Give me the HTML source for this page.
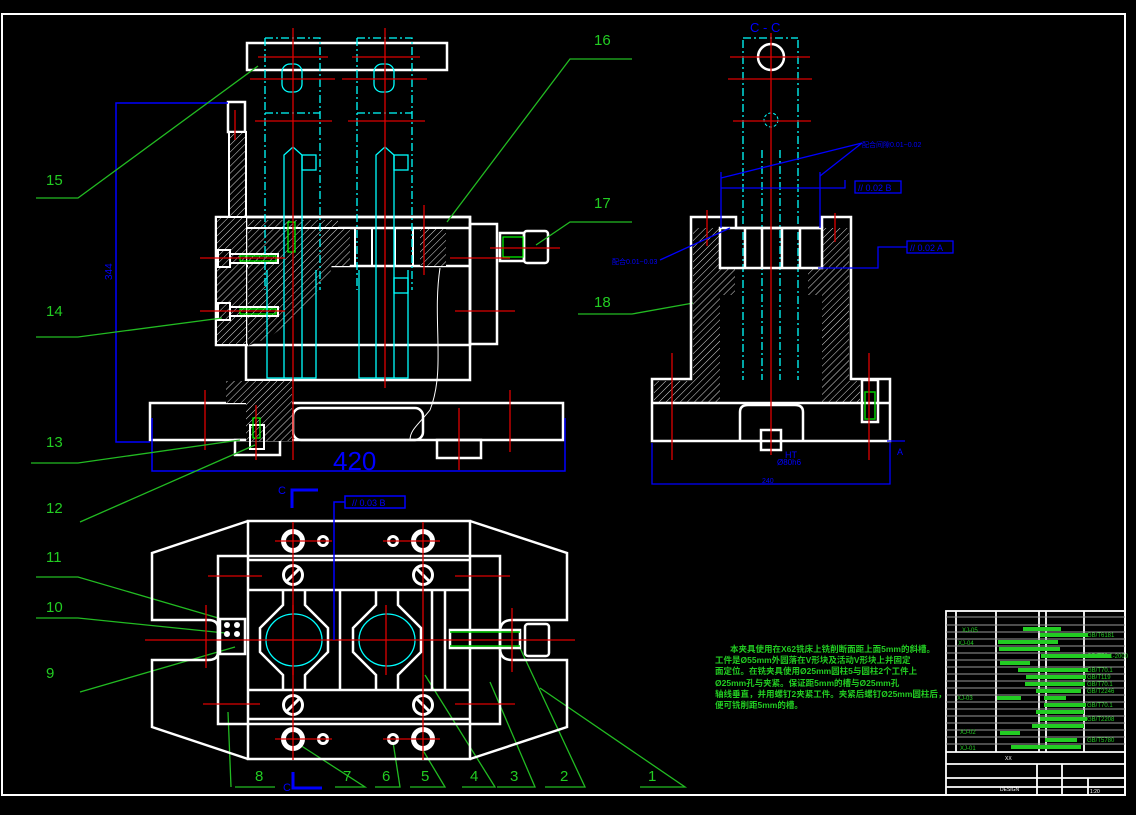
<!DOCTYPE html>
<html><head><meta charset="utf-8"><style>
html,body{margin:0;padding:0;background:#000;}
svg{display:block}
text{font-family:"Liberation Sans","Noto Sans CJK SC",sans-serif}
</style></head><body>
<svg width="1136" height="815" viewBox="0 0 1136 815" xmlns="http://www.w3.org/2000/svg">
<defs>
<pattern id="h" width="5" height="5" patternUnits="userSpaceOnUse" patternTransform="rotate(45)">
<rect width="5" height="5" fill="#000"/><line x1="0" y1="0" x2="0" y2="5" stroke="#ddd" stroke-width="1"/></pattern>
</defs>
<rect width="1136" height="815" fill="#000"/>
<rect x="2" y="14" width="1123" height="781" fill="none" stroke="#fff" stroke-width="2"/>

<!-- ============ FRONT VIEW ============ -->
<g fill="none" stroke="#fff" stroke-width="2.5">
<rect x="247" y="43" width="200" height="27"/>
<rect x="228" y="102" width="17" height="30"/>
<rect x="216" y="217" width="254" height="128"/>
<rect x="470" y="224" width="27" height="120"/>
<rect x="246" y="217" width="224" height="163"/>
<line x1="246" y1="228" x2="470" y2="228"/>
<line x1="246" y1="266" x2="470" y2="266"/>
<rect x="150" y="403" width="413" height="37"/>
<rect x="235" y="440" width="45" height="15"/>
<rect x="437" y="440" width="44" height="18"/>
<rect x="293" y="408" width="130" height="32" rx="8"/>
<rect x="500" y="233" width="24" height="28"/>
<rect x="524" y="231" width="24" height="32" rx="3"/>
</g>
<rect x="229" y="132" width="17" height="85" fill="url(#h)" stroke="#fff" stroke-width="2"/>
<rect x="217" y="218" width="29" height="126" fill="url(#h)"/>
<path d="M248 229 L338 229 L330 275 L310 300 L292 320 L270 337 L248 346 Z" fill="url(#h)"/>
<rect x="328" y="229" width="22" height="37" fill="url(#h)"/>
<rect x="420" y="229" width="26" height="37" fill="url(#h)"/>
<rect x="248" y="220" width="90" height="7" fill="url(#h)"/>
<rect x="226" y="381" width="66" height="22" fill="url(#h)"/>
<rect x="246" y="381" width="46" height="60" fill="url(#h)"/>
<g stroke="#fff" stroke-width="2" fill="none">
<line x1="355" y1="229" x2="355" y2="266"/><line x1="372" y1="229" x2="372" y2="266"/>
<line x1="395" y1="229" x2="395" y2="266"/><line x1="413" y1="229" x2="413" y2="266"/>
<rect x="218" y="250" width="12" height="17"/><rect x="218" y="303" width="12" height="17"/>
<rect x="230" y="254" width="48" height="9"/><rect x="230" y="307" width="48" height="9"/>
<rect x="250" y="425" width="14" height="24"/>
<path d="M440 268 C432 320 446 370 430 410 C418 425 410 430 410 440" stroke-width="1"/>
</g>
<g stroke="#0f0" stroke-width="1.2" fill="none"><rect x="240" y="256" width="36" height="5"/><rect x="240" y="309" width="36" height="5"/><rect x="288" y="222" width="7" height="30"/><rect x="253" y="418" width="7" height="20"/><rect x="503" y="237" width="20" height="20"/></g>
<!-- cyan columns -->
<g stroke="#0ff" stroke-width="1.3" fill="none" stroke-dasharray="8 3 2 3">
<path d="M265 38 L320 38 L320 290 M265 38 L265 290"/>
<path d="M357 38 L412 38 L412 290 M357 38 L357 290"/>
<path d="M265 113 L320 113 M357 113 L412 113"/>
</g>
<g stroke="#0ff" stroke-width="1.3" fill="none">
<rect x="282" y="64" width="20" height="28" rx="8"/><rect x="374" y="64" width="20" height="28" rx="8"/>
<path d="M284 378 L284 155 L293 147 L302 155 L302 378"/>
<path d="M376 378 L376 155 L385 147 L394 155 L394 378"/>
<path d="M267 270 L267 378 L316 378 L316 270"/>
<path d="M359 270 L359 378 L408 378 L408 270"/>
<rect x="302" y="155" width="14" height="15"/><rect x="394" y="155" width="14" height="15"/>
<rect x="394" y="278" width="14" height="15"/>
</g>
<!-- red center lines front -->
<g stroke="#d00" stroke-width="1.3" fill="none">
<line x1="293" y1="28" x2="293" y2="460"/><line x1="385" y1="28" x2="385" y2="388"/>
<line x1="258" y1="57" x2="328" y2="57"/><line x1="352" y1="57" x2="420" y2="57"/>
<line x1="250" y1="79" x2="335" y2="79"/><line x1="342" y1="79" x2="427" y2="79"/>
<line x1="255" y1="121" x2="332" y2="121"/><line x1="348" y1="121" x2="425" y2="121"/>
<line x1="200" y1="258" x2="285" y2="258"/><line x1="200" y1="311" x2="285" y2="311"/>
<line x1="450" y1="258" x2="510" y2="258"/><line x1="455" y1="311" x2="515" y2="311"/>
<line x1="490" y1="248" x2="560" y2="248"/>
<line x1="424" y1="205" x2="424" y2="275"/>
<line x1="205" y1="390" x2="205" y2="450"/><line x1="459" y1="408" x2="459" y2="470"/>
<line x1="510" y1="390" x2="510" y2="452"/><line x1="256" y1="405" x2="256" y2="460"/>
<line x1="235" y1="110" x2="235" y2="140"/>
</g>
<!-- dims front -->
<g stroke="#00f" stroke-width="1.5" fill="none">
<path d="M228 103 L116 103 L116 442 L150 442"/>
<path d="M152 418 L152 471 L565 471 L565 418"/>
</g>
<text x="112" y="280" fill="#00f" font-size="10" transform="rotate(-90 112 280)">344</text>
<text x="333" y="470" fill="#00f" font-size="26">420</text>

<!-- leaders -->
<g stroke="#2b2" stroke-width="1.3" fill="none">
<path d="M36 198 L78 198 L258 66"/>
<path d="M632 59 L570 59 L447 222"/>
<path d="M632 222 L570 222 L536 245"/>
<path d="M578 314 L632 314 L710 300"/>
<path d="M36 337 L78 337 L222 318"/>
<path d="M31 463 L78 463 L240 440"/>
<path d="M80 522 L255 445"/>
<path d="M36 577 L78 577 L225 620"/>
<path d="M36 618 L78 618 L225 633"/>
<path d="M80 692 L235 647"/>
<path d="M235 787 L275 787 M231 787 L228 712"/>
<path d="M335 787 L365 787 L300 745"/>
<path d="M375 787 L400 787 L393 742"/>
<path d="M410 787 L445 787 L418 742"/>
<path d="M462 787 L495 787 L425 675"/>
<path d="M497 787 L535 787 L490 682"/>
<path d="M545 787 L585 787 L520 648"/>
<path d="M640 787 L685 787 L540 688"/>
</g>
<g fill="#2c2" font-size="15">
<text x="46" y="185">15</text><text x="594" y="45">16</text><text x="594" y="208">17</text><text x="594" y="307">18</text>
<text x="46" y="316">14</text><text x="46" y="447">13</text><text x="46" y="513">12</text>
<text x="46" y="562">11</text><text x="46" y="612">10</text><text x="46" y="678">9</text>
<text x="255" y="781">8</text><text x="343" y="781">7</text><text x="382" y="781">6</text><text x="421" y="781">5</text>
<text x="470" y="781">4</text><text x="510" y="781">3</text><text x="560" y="781">2</text><text x="648" y="781">1</text>
</g>

<!-- ============ TOP (PLAN) VIEW ============ -->
<g fill="none" stroke="#fff" stroke-width="2.5">
<path d="M248 521 L152 553 L152 620 L208 620 Q218 620 218 628 L218 652 Q218 660 208 660 L152 660 L152 727 L248 759"/>
<path d="M470 521 L567 553 L567 620 L512 620 Q500 620 500 632 L500 648 Q500 660 512 660 L567 660 L567 727 L470 759"/>
<rect x="248" y="521" width="222" height="238"/>
<rect x="218" y="556" width="282" height="168"/>
<line x1="248" y1="560" x2="470" y2="560"/><line x1="248" y1="590" x2="470" y2="590"/>
<line x1="248" y1="690" x2="470" y2="690"/><line x1="248" y1="719" x2="470" y2="719"/>
<line x1="340" y1="590" x2="340" y2="690"/><line x1="432" y1="590" x2="432" y2="690"/><line x1="445" y1="590" x2="445" y2="690"/>
<path d="M283 590 L283 605 L260 628 L260 652 L283 675 L283 690 M305 590 L305 605 L328 628 L328 652 L305 675 L305 690"/>
<path d="M376 590 L376 605 L353 628 L353 652 L376 675 L376 690 M398 590 L398 605 L421 628 L421 652 L398 675 L398 690"/>
<rect x="450" y="630" width="70" height="18"/>
<rect x="525" y="624" width="24" height="32" rx="3"/>
<rect x="220" y="619" width="25" height="35"/>
</g>
<g fill="none" stroke="#0ff" stroke-width="1.3"><ellipse cx="294" cy="640" rx="28" ry="26"/><ellipse cx="387" cy="640" rx="28" ry="26"/></g>
<g fill="#fff" stroke="none">
<circle cx="293" cy="541" r="12"/><circle cx="423" cy="541" r="12"/><circle cx="293" cy="739" r="12"/><circle cx="423" cy="739" r="12"/>
<circle cx="323" cy="541" r="6"/><circle cx="393" cy="541" r="6"/><circle cx="323" cy="739" r="6"/><circle cx="393" cy="739" r="6"/>
<circle cx="293" cy="575" r="11"/><circle cx="423" cy="575" r="11"/><circle cx="293" cy="705" r="11"/><circle cx="423" cy="705" r="11"/>
</g>
<g fill="#000"><circle cx="293" cy="541" r="7"/><circle cx="423" cy="541" r="7"/><circle cx="293" cy="739" r="7"/><circle cx="423" cy="739" r="7"/>
<circle cx="323" cy="541" r="3"/><circle cx="393" cy="541" r="3"/><circle cx="323" cy="739" r="3"/><circle cx="393" cy="739" r="3"/>
<circle cx="293" cy="575" r="8"/><circle cx="423" cy="575" r="8"/><circle cx="293" cy="705" r="8"/><circle cx="423" cy="705" r="8"/></g>
<g stroke="#fff" stroke-width="3"><line x1="287" y1="581" x2="299" y2="569"/><line x1="417" y1="569" x2="429" y2="581"/><line x1="287" y1="711" x2="299" y2="699"/><line x1="417" y1="699" x2="429" y2="711"/></g>
<g fill="#fff"><circle cx="227" cy="625" r="3"/><circle cx="237" cy="625" r="3"/><circle cx="227" cy="634" r="3"/><circle cx="237" cy="634" r="3"/></g>
<g stroke="#0c0" stroke-width="1.5"><line x1="450" y1="632" x2="520" y2="632"/><line x1="450" y1="646" x2="520" y2="646"/></g>
<g stroke="#d00" stroke-width="1.3">
<line x1="145" y1="640" x2="575" y2="640"/>
<line x1="293" y1="522" x2="293" y2="760"/><line x1="423" y1="522" x2="423" y2="760"/>
<line x1="208" y1="576" x2="262" y2="576"/><line x1="455" y1="576" x2="510" y2="576"/>
<line x1="203" y1="704" x2="260" y2="704"/><line x1="455" y1="704" x2="515" y2="704"/>
<line x1="206" y1="605" x2="206" y2="668"/><line x1="512" y1="608" x2="512" y2="672"/>
<line x1="293" y1="605" x2="293" y2="675"/><line x1="386" y1="605" x2="386" y2="675"/>
<line x1="275" y1="541" x2="332" y2="541"/><line x1="383" y1="541" x2="440" y2="541"/>
<line x1="275" y1="739" x2="332" y2="739"/><line x1="383" y1="739" x2="440" y2="739"/>
</g>
<g stroke="#00f" stroke-width="1.5" fill="none">
<path d="M334 640 L334 502 L345 502"/><rect x="345" y="496" width="60" height="12"/>
<path d="M292 508 L292 490 L318 490" stroke-width="3"/><path d="M293 772 L293 788 L322 788" stroke-width="3"/>
</g>
<text x="352" y="506" fill="#00f" font-size="9">// 0.03 B</text>
<text x="278" y="494" fill="#00f" font-size="11">C</text><text x="283" y="791" fill="#00f" font-size="11">C</text>

<!-- ============ SECTION C-C ============ -->
<text x="750" y="32" fill="#00f" font-size="13">C - C</text>
<g stroke="#0ff" stroke-width="1.3" fill="none" stroke-dasharray="8 3 2 3">
<path d="M743 40 L743 380 M798 40 L798 380 M743 38 L798 38"/>
<path d="M762 150 L762 380 M780 150 L780 380"/>
</g>
<circle cx="771" cy="120" r="7" stroke="#0ff" fill="none" stroke-dasharray="3 2"/>
<circle cx="771" cy="57" r="13" stroke="#fff" stroke-width="2.5" fill="none"/>
<path d="M652 379 L691 379 L691 217 L736 217 L736 228 L822 228 L822 217 L851 217 L851 379 L890 379 L890 441 L652 441 Z" fill="none" stroke="#fff" stroke-width="2.5"/>
<path d="M693 228 L720 228 L720 268 L735 268 L735 295 L720 295 L720 403 L654 403 L654 381 L693 381 Z" fill="url(#h)"/>
<path d="M849 228 L822 228 L822 268 L808 268 L808 295 L822 295 L822 403 L860 403 L860 381 L849 381 Z" fill="url(#h)"/>
<g fill="none" stroke="#fff" stroke-width="2.5">
<rect x="720" y="228" width="102" height="40"/>
<line x1="745" y1="228" x2="745" y2="268"/><line x1="762" y1="228" x2="762" y2="268"/><line x1="782" y1="228" x2="782" y2="268"/><line x1="800" y1="228" x2="800" y2="268"/>
<path d="M652 403 L890 403"/>
<path d="M740 441 L740 412 Q740 405 748 405 L795 405 Q803 405 803 412 L803 441"/>
<rect x="761" y="430" width="20" height="20"/>
<rect x="862" y="380" width="16" height="42"/>
</g>
<rect x="865" y="392" width="10" height="27" fill="none" stroke="#0c0" stroke-width="1.5"/>
<g stroke="#d00" stroke-width="1.3">
<line x1="771" y1="33" x2="771" y2="455"/><line x1="730" y1="57" x2="810" y2="57"/><line x1="728" y1="79" x2="812" y2="79"/><line x1="733" y1="121" x2="811" y2="121"/>
<line x1="707" y1="210" x2="707" y2="246"/><line x1="835" y1="213" x2="835" y2="242"/>
<line x1="672" y1="353" x2="672" y2="460"/><line x1="869" y1="353" x2="869" y2="460"/>
</g>
<g stroke="#00f" stroke-width="1.3" fill="none">
<path d="M652 443 L652 484 L890 484 L890 443"/>
<path d="M721 172 L721 228 M820 172 L820 228"/>
<path d="M721 188 L845 188 L845 180 M721 178 L862 143 L820 176"/>
<rect x="855" y="181" width="46" height="12"/>
<path d="M818 268 L878 268 L878 247 L907 247"/><rect x="907" y="241" width="46" height="12"/>
<path d="M660 260 L730 228"/>
<path d="M887 441 L905 441"/>
</g>
<g fill="#00f" font-size="7">
<text x="862" y="147">配合间隙0.01~0.02</text>
<text x="858" y="191" font-size="9">// 0.02 B</text>
<text x="910" y="251" font-size="9">// 0.02 A</text>
<text x="612" y="264">配合0.01~0.03</text>
<text x="762" y="483">240</text>
<text x="785" y="458" font-size="9">HT</text>
<text x="777" y="465" font-size="8">Ø80h6</text>
<text x="897" y="455" font-size="9">A</text>
</g>

<!-- ============ TEXT NOTES ============ -->
<g fill="#2c2" font-size="8.5" font-weight="bold">
<text x="730" y="652">本夹具使用在X62铣床上铣削断面距上面5mm的斜槽。</text>
<text x="715" y="663">工件是Ø55mm外圆落在V形块及活动V形块上并固定</text>
<text x="715" y="674">面定位。在铣夹具使用Ø25mm圆柱5与圆柱2个工件上</text>
<text x="715" y="686">Ø25mm孔与夹紧。保证距5mm的槽与Ø25mm孔</text>
<text x="715" y="697">轴线垂直，并用螺钉2夹紧工件。夹紧后螺钉Ø25mm圆柱后，</text>
<text x="715" y="708">便可铣削距5mm的槽。</text>
</g>

<!-- ============ TITLE BLOCK ============ -->
<g stroke="#fff" stroke-width="1.8" fill="none">
<rect x="946" y="611" width="179" height="184"/>
<line x1="956" y1="611" x2="956" y2="752"/><line x1="996" y1="611" x2="996" y2="752"/>
<line x1="1039" y1="611" x2="1039" y2="752"/><line x1="1046" y1="611" x2="1046" y2="752"/><line x1="1084" y1="611" x2="1084" y2="752"/>
<line x1="946" y1="752" x2="1125" y2="752"/><line x1="946" y1="764" x2="1125" y2="764"/>
<line x1="946" y1="778" x2="1125" y2="778"/><line x1="946" y1="787" x2="1125" y2="787"/>
<line x1="1037" y1="764" x2="1037" y2="795"/><line x1="1062" y1="764" x2="1062" y2="795"/><line x1="1088" y1="778" x2="1088" y2="795"/>
</g>
<g stroke="#999" stroke-width="1">
<line x1="946" y1="617" x2="1125" y2="617"/><line x1="946" y1="625" x2="1125" y2="625"/><line x1="946" y1="632" x2="1125" y2="632"/>
<line x1="946" y1="639" x2="1125" y2="639"/><line x1="946" y1="646" x2="1125" y2="646"/><line x1="946" y1="653" x2="1125" y2="653"/>
<line x1="946" y1="660" x2="1125" y2="660"/><line x1="946" y1="667" x2="1125" y2="667"/><line x1="946" y1="674" x2="1125" y2="674"/>
<line x1="946" y1="681" x2="1125" y2="681"/><line x1="946" y1="688" x2="1125" y2="688"/><line x1="946" y1="695" x2="1125" y2="695"/>
<line x1="946" y1="702" x2="1125" y2="702"/><line x1="946" y1="709" x2="1125" y2="709"/><line x1="946" y1="716" x2="1125" y2="716"/>
<line x1="946" y1="723" x2="1125" y2="723"/><line x1="946" y1="730" x2="1125" y2="730"/><line x1="946" y1="737" x2="1125" y2="737"/><line x1="946" y1="744" x2="1125" y2="744"/>
</g>
<g fill="#2c2">
<rect x="1023" y="627" width="38" height="4"/><rect x="1040" y="633" width="48" height="4"/><rect x="998" y="640" width="60" height="4"/>
<rect x="999" y="647" width="61" height="4"/><rect x="1041" y="654" width="70" height="4"/><rect x="1000" y="661" width="30" height="4"/>
<rect x="1018" y="668" width="70" height="4"/><rect x="1026" y="675" width="60" height="4"/><rect x="1025" y="682" width="60" height="4"/>
<rect x="1036" y="689" width="45" height="4"/><rect x="997" y="696" width="24" height="4"/><rect x="1044" y="696" width="22" height="4"/>
<rect x="1044" y="703" width="42" height="4"/><rect x="1036" y="710" width="48" height="4"/><rect x="1040" y="717" width="47" height="4"/>
<rect x="1032" y="724" width="52" height="4"/><rect x="1000" y="731" width="20" height="4"/><rect x="1045" y="738" width="32" height="4"/><rect x="1011" y="745" width="70" height="4"/>
</g>
<g fill="#2c2" font-size="6">
<text x="962" y="632">XJ-05</text><text x="958" y="645">XJ-04</text><text x="957" y="700">XJ-03</text><text x="960" y="734">XJ-02</text><text x="960" y="750">XJ-01</text>
<text x="1087" y="637">GB/T6181</text><text x="1087" y="658">GB/T70.1-2000</text><text x="1087" y="672">GB/T70.1</text><text x="1087" y="679">GB/T119</text>
<text x="1087" y="686">GB/T70.1</text><text x="1087" y="693">GB/T2246</text><text x="1087" y="707">GB/T70.1</text><text x="1087" y="721">GB/T2208</text><text x="1087" y="742">GB/T5780</text>
</g>
<g fill="#fff" font-size="5"><text x="1000" y="791">DESIGN</text><text x="1005" y="760">XX</text><text x="1090" y="793">1:20</text></g>
</svg>
</body></html>
